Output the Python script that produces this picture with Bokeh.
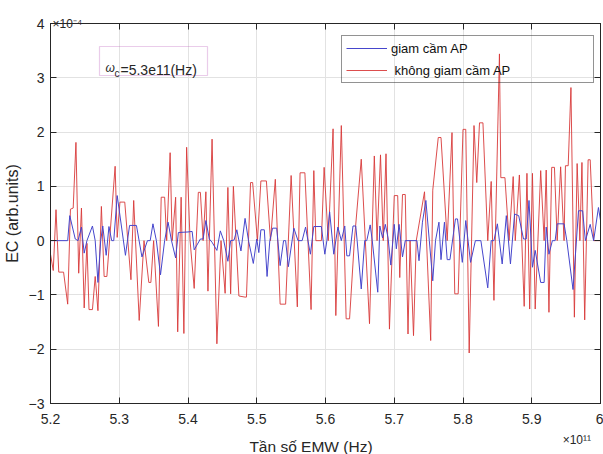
from bokeh.plotting import figure
from bokeh.models import (Range1d, FixedTicker, LinearAxis, Legend, LegendItem,
                          Label, BoxAnnotation)
from bokeh.embed import file_html
from bokeh.resources import INLINE

# ---- data (frequency in 1e11 Hz, EC in 1e-4 arb.units) ----
blue_f = [5.200, 5.225, 5.228, 5.236, 5.240, 5.245, 5.249, 5.253, 5.261, 5.265,
          5.269, 5.273, 5.276, 5.281, 5.285, 5.289, 5.292, 5.297, 5.309, 5.315,
          5.325, 5.333, 5.341, 5.345, 5.349, 5.354, 5.360, 5.366, 5.371, 5.376,
          5.382, 5.386, 5.400, 5.406, 5.409, 5.418, 5.422, 5.426, 5.431, 5.435,
          5.442, 5.447, 5.452, 5.458, 5.462, 5.467, 5.471, 5.477, 5.483, 5.488,
          5.495, 5.500, 5.503, 5.506, 5.511, 5.515, 5.519, 5.523, 5.529, 5.534,
          5.539, 5.542, 5.546, 5.554, 5.560, 5.566, 5.571, 5.578, 5.583, 5.594,
          5.599, 5.602, 5.606, 5.612, 5.618, 5.623, 5.628, 5.631, 5.635, 5.640,
          5.644, 5.646, 5.652, 5.657, 5.660, 5.665, 5.668, 5.676, 5.679, 5.683,
          5.687, 5.691, 5.695, 5.700, 5.703, 5.707, 5.712, 5.716, 5.733, 5.736,
          5.741, 5.746, 5.751, 5.756, 5.760, 5.765, 5.768, 5.773, 5.777, 5.781,
          5.789, 5.792, 5.799, 5.804, 5.811, 5.818, 5.826, 5.836, 5.841, 5.845,
          5.850, 5.857, 5.863, 5.869, 5.875, 5.881, 5.888, 5.892, 5.896, 5.901,
          5.905, 5.913, 5.918, 5.921, 5.925, 5.930, 5.934, 5.937, 5.947, 5.951,
          5.960, 5.968, 5.974, 5.978, 5.985, 5.990, 5.997, 6.000]
blue_ec = [0.00, 0.00, 0.46, 0.03, 0.00, 0.25, -0.23, 0.00, 0.27, 0.00,
           -0.77, 0.00, 0.27, -0.27, 0.26, 0.00, 0.00, 0.83, -0.27, 0.28,
           0.28, -0.30, 0.00, 0.00, 0.31, 0.00, -0.63, 0.00, 0.34, 0.00,
           -0.32, 0.15, 0.16, 0.17, -0.17, 0.03, 0.03, 0.37, 0.03, -0.03,
           -0.18, 0.18, 0.00, -0.38, 0.00, 0.01, 0.20, -0.19, 0.41, 0.00,
           -0.42, 0.03, -0.22, 0.20, 0.20, -0.66, 0.00, 0.23, 0.23, -0.46,
           0.00, 0.00, -0.48, 0.23, 0.00, 0.00, 0.25, -0.25, 0.26, 0.26,
           -0.25, 0.00, 0.53, -0.25, 0.25, 0.00, 0.27, -0.28, -0.28, 0.27,
           0.27, 0.00, -0.89, 0.00, 0.00, 0.29, 0.00, -0.95, 0.27, 0.05,
           0.30, 0.05, -0.45, 0.30, -0.15, 0.30, -0.30, 0.00, 0.00, -0.37,
           0.34, 0.74, 0.00, -0.74, 0.00, 0.34, -0.35, 0.34, -0.35, -0.35,
           0.40, 0.40, -0.40, 0.37, -0.40, 0.00, 0.00, -0.87, 0.00, 0.00,
           0.31, -0.43, 0.46, -0.43, 0.49, 0.46, 0.03, 0.03, 0.74, -0.49,
           -0.18, -0.77, -0.77, 0.25, -0.25, 0.00, 0.00, 0.31, 0.31, 0.00,
           -0.90, 0.55, 0.55, 0.00, 0.30, 0.00, 0.61, 0.37]

red_f = [5.200, 5.204, 5.208, 5.212, 5.219, 5.225, 5.229, 5.233, 5.237, 5.241,
         5.245, 5.249, 5.253, 5.256, 5.261, 5.265, 5.269, 5.274, 5.278, 5.282,
         5.294, 5.297, 5.301, 5.308, 5.317, 5.321, 5.329, 5.336, 5.343, 5.346,
         5.350, 5.357, 5.361, 5.366, 5.369, 5.374, 5.377, 5.382, 5.385, 5.390,
         5.394, 5.398, 5.403, 5.409, 5.415, 5.418, 5.422, 5.426, 5.429, 5.435,
         5.442, 5.448, 5.454, 5.458, 5.462, 5.466, 5.474, 5.483, 5.485, 5.491,
         5.494, 5.501, 5.506, 5.514, 5.520, 5.527, 5.534, 5.542, 5.550, 5.559,
         5.563, 5.570, 5.579, 5.583, 5.586, 5.594, 5.598, 5.604, 5.611, 5.615,
         5.623, 5.630, 5.635, 5.642, 5.652, 5.664, 5.671, 5.675, 5.680, 5.684,
         5.688, 5.693, 5.700, 5.705, 5.708, 5.712, 5.716, 5.720, 5.723, 5.728,
         5.732, 5.744, 5.753, 5.756, 5.764, 5.768, 5.777, 5.784, 5.788, 5.793,
         5.800, 5.804, 5.809, 5.816, 5.820, 5.824, 5.829, 5.836, 5.841, 5.845,
         5.853, 5.855, 5.861, 5.867, 5.873, 5.876, 5.882, 5.889, 5.893, 5.897,
         5.901, 5.905, 5.913, 5.918, 5.921, 5.925, 5.929, 5.933, 5.937, 5.942,
         5.947, 5.949, 5.953, 5.957, 5.962, 5.966, 5.970, 5.973, 5.977, 5.982,
         5.985, 5.990, 6.000]
red_ec = [-0.25, -0.55, 0.57, -0.58, -0.58, -1.17, 0.58, 0.60, 1.81, -0.60,
          0.60, -1.24, -0.05, -1.27, -1.27, -0.66, -1.29, 0.63, -0.66, -0.66,
          1.37, 0.06, 0.71, 0.71, -0.72, 0.74, -1.47, 0.00, -0.77, -0.77,
          0.00, -1.58, 0.80, 0.80, 0.00, 1.62, 0.00, 0.80, -1.68, 0.80,
          -1.71, 1.72, 0.00, -0.88, 0.89, 0.89, 0.00, 0.90, -0.93, 1.87,
          -1.90, 0.00, -0.97, 0.98, -0.98, 1.00, -1.02, -1.04, -1.04, 1.07,
          1.07, 0.00, 1.10, 1.10, 0.00, 1.13, -1.17, -1.17, 1.20, -1.22,
          1.25, 1.25, -1.27, 1.29, 0.00, 0.00, 1.35, 0.00, 2.06, -1.38,
          2.12, -1.44, -1.44, 0.00, 1.50, -1.53, 1.56, 0.00, 1.58, 0.00,
          1.60, -1.63, 0.83, 0.83, -0.68, 0.85, 0.85, -1.72, 0.00, -1.75,
          0.00, 0.90, -1.84, 0.93, 1.90, 1.90, 0.00, 1.99, -0.98, -0.98,
          2.05, 2.05, -2.07, 2.12, 1.07, 2.17, 2.17, 0.00, 1.09, -1.10,
          3.44, 1.16, 1.16, 0.00, 1.18, 0.00, 1.21, -1.21, 1.24, -1.26,
          1.24, -1.26, 1.29, 0.00, 1.30, -1.32, 1.35, 1.35, 0.00, 1.36,
          0.00, 1.38, 1.38, 2.82, -1.41, 1.42, 0.00, 1.44, -1.46, 1.49,
          1.49, 0.00, 0.00]

x_ticks = [5.2, 5.3, 5.4, 5.5, 5.6, 5.7, 5.8, 5.9, 6.0]
x_tick_labels = ["5.2", "5.3", "5.4", "5.5", "5.6", "5.7", "5.8", "5.9", "6"]
y_ticks = [-3, -2, -1, 0, 1, 2, 3, 4]
series_names = ["giam cầm AP", " không giam cầm AP"]

FONT = "Liberation Sans"
AX = "#262626"

p = figure(width=603, height=454, x_range=Range1d(5.2, 6.0), y_range=Range1d(-3, 4),
           output_backend="svg", toolbar_location=None,
           min_border_left=45, min_border_right=3, min_border_top=23, min_border_bottom=51)
p.background_fill_color = "white"
p.border_fill_color = "white"
p.outline_line_color = AX

bottom_ax = p.xaxis[0]
left_ax = p.yaxis[0]

red_r = p.line(red_f, red_ec, line_color="#d83a3a", line_width=1, line_alpha=0.9)
blue_r = p.line(blue_f, blue_ec, line_color="#4646cc", line_width=1)

top_ax = LinearAxis()
right_ax = LinearAxis()
p.add_layout(top_ax, "above")
p.add_layout(right_ax, "right")

for ax in [bottom_ax, top_ax]:
    ax.ticker = FixedTicker(ticks=x_ticks)
bottom_ax.major_label_overrides = {t: l for t, l in zip(x_ticks, x_tick_labels)}
for ax in [left_ax, right_ax]:
    ax.ticker = FixedTicker(ticks=y_ticks)

for ax in [bottom_ax, left_ax, top_ax, right_ax]:
    ax.axis_line_color = AX
    ax.major_tick_line_color = AX
    ax.major_tick_in = 6
    ax.major_tick_out = 0
    ax.minor_tick_line_color = None
    ax.major_label_text_font = FONT
    ax.major_label_text_font_size = "14px"
    ax.major_label_text_color = AX

for ax in [top_ax, right_ax]:
    ax.major_label_text_color = None
    ax.major_label_text_font_size = "1px"
    ax.major_label_standoff = 0

bottom_ax.major_label_standoff = 10
left_ax.major_label_standoff = 6
left_ax.axis_label = "EC (arb.units)"
left_ax.axis_label_text_font = FONT
left_ax.axis_label_text_font_size = "16px"
left_ax.axis_label_text_font_style = "normal"
left_ax.axis_label_text_color = AX
left_ax.axis_label_standoff = 5

p.xgrid.ticker = FixedTicker(ticks=x_ticks)
p.ygrid.ticker = FixedTicker(ticks=y_ticks)
p.xgrid.grid_line_color = "#e2e2e2"
p.ygrid.grid_line_color = "#e2e2e2"

# texts outside the frame: held in side panels (so not clipped), positioned in data units
p.add_layout(Label(x=5.582, y=-3.80, text="Tần số EMW  (Hz)",
                   text_font=FONT, text_font_size="15.5px", text_color=AX, text_align="center",
                   text_baseline="alphabetic"), "above")
p.add_layout(Label(x=5.945, y=-3.68, text="×10¹¹",
                   text_font=FONT, text_font_size="12px", text_color=AX, text_baseline="alphabetic"), "below")
p.add_layout(Label(x=5.203, y=4.0, text="×10⁻⁴",
                   text_font=FONT, text_font_size="12px", text_color=AX, text_baseline="alphabetic"), "below")

# omega_c annotation box
p.add_layout(BoxAnnotation(left=49, right=157, top=357, bottom=328,
                           left_units="screen", right_units="screen",
                           top_units="screen", bottom_units="screen",
                           fill_alpha=0, line_color="#bb55bb", line_width=1.2))
p.add_layout(Label(x=55, y=336, x_units="screen", y_units="screen", text="ω",
                   text_font=FONT, text_font_size="12px", text_font_style="italic",
                   text_color=AX, text_baseline="alphabetic"))
p.add_layout(Label(x=64, y=330, x_units="screen", y_units="screen", text="c",
                   text_font=FONT, text_font_size="10px", text_color=AX, text_baseline="alphabetic"))
p.add_layout(Label(x=70, y=334, x_units="screen", y_units="screen", text="=5.3e11(Hz)",
                   text_font=FONT, text_font_size="14px", text_color=AX, text_baseline="alphabetic"))

legend = Legend(items=[LegendItem(label=series_names[0], renderers=[blue_r]),
                       LegendItem(label=series_names[1], renderers=[red_r])],
                location=(291, 320), orientation="vertical",
                border_line_color=AX, border_line_width=1,
                background_fill_alpha=0,
                label_text_font=FONT, label_text_font_size="13px", label_text_color="#111111",
                glyph_width=41, glyph_height=16, label_height=16, label_standoff=4,
                padding=4, spacing=6, margin=0, label_width=198)
p.add_layout(legend, "center")

open("out.html", "w").write(file_html(p, INLINE))
